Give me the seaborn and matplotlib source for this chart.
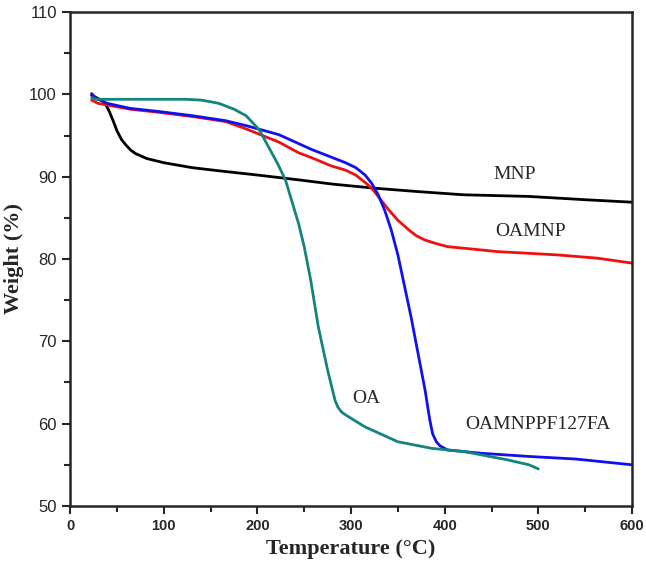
import numpy as np
import pandas as pd
import seaborn as sns
import matplotlib.pyplot as plt
from matplotlib.ticker import MultipleLocator

# values
mnp_t = [23, 28, 35, 38, 42, 46, 50, 55, 60, 65, 70, 82, 100, 130, 160, 200, 245, 280, 325, 370, 420, 490, 550, 600]
mnp_w = [99.9, 99.6, 99.2, 98.8, 97.9, 96.8, 95.6, 94.5, 93.8, 93.2, 92.8, 92.2, 91.7, 91.1, 90.7, 90.2, 89.6, 89.1, 88.6, 88.2, 87.8, 87.6, 87.2, 86.9]

oamnp_t = [23, 30, 45, 64, 96, 131, 166, 188, 223, 244, 258, 279, 294, 305, 315, 322, 329, 340, 350, 362, 370, 379, 390, 403, 430, 456, 520, 563, 600]
oamnp_w = [99.3, 98.9, 98.6, 98.2, 97.8, 97.3, 96.7, 95.8, 94.2, 92.9, 92.3, 91.3, 90.8, 90.2, 89.3, 88.6, 87.6, 86.0, 84.7, 83.5, 82.8, 82.3, 81.9, 81.5, 81.2, 80.9, 80.5, 80.1, 79.5]

pf127_t = [23, 28, 40, 64, 96, 131, 166, 188, 223, 258, 294, 305, 315, 322, 329, 336, 343, 350, 364, 379, 384, 387, 391, 395, 403, 439, 492, 540, 600]
pf127_w = [100.1, 99.5, 98.9, 98.3, 97.9, 97.4, 96.8, 96.2, 95.1, 93.3, 91.7, 91.1, 90.2, 89.2, 87.8, 85.9, 83.5, 80.5, 73.0, 64.1, 60.5, 58.8, 57.8, 57.3, 56.8, 56.4, 56.0, 55.7, 55.0]

oa_t = [23, 28, 60, 124, 140, 150, 159, 175, 188, 202, 212, 222, 230, 244, 250, 257, 265, 275, 283, 286, 290, 295, 315, 350, 386, 421, 467, 490, 500]
oa_w = [99.6, 99.4, 99.4, 99.4, 99.3, 99.1, 98.9, 98.2, 97.4, 95.7, 93.6, 91.5, 89.6, 84.3, 81.5, 77.4, 71.8, 66.5, 62.8, 62.0, 61.4, 61.0, 59.6, 57.8, 57.0, 56.6, 55.6, 55.0, 54.5]

names = ["MNP", "OAMNP", "OAMNPPF127FA", "OA"]
colors = ["#000000", "#ee1111", "#1111ee", "#13857c"]
label_pos = [(475, 90.3), (492, 83.3), (500, 59.9), (316, 63.1)]

sns.set_style("ticks")
plt.rcParams["font.family"] = ["Liberation Sans", "DejaVu Sans"]

fig = plt.figure(figsize=(6.46, 5.73), dpi=100)
ax = fig.add_axes([0.1084, 0.117, 0.8700, 0.862])

curves = [(mnp_t, mnp_w), (oamnp_t, oamnp_w), (pf127_t, pf127_w), (oa_t, oa_w)]
for (t, w), name, c in zip(curves, names, colors):
    df = pd.DataFrame({"t": t, "w": w})
    sns.lineplot(data=df, x="t", y="w", color=c, linewidth=2.0, ax=ax, sort=False)

for name, (x, y) in zip(names, label_pos):
    ax.text(x, y, name, fontsize=14, family="Liberation Serif", ha="center", va="center")

ax.set_xlim(0, 600)
ax.set_ylim(50, 110)
ax.xaxis.set_major_locator(MultipleLocator(100))
ax.xaxis.set_minor_locator(MultipleLocator(50))
ax.yaxis.set_major_locator(MultipleLocator(10))
ax.yaxis.set_minor_locator(MultipleLocator(5))
ax.tick_params(which="major", direction="out", length=6, width=1.5, top=False, right=False)
ax.tick_params(which="minor", direction="out", length=4, width=1.5, top=False, right=False)
ax.tick_params(axis="y", labelsize=12)
ax.tick_params(axis="x", labelsize=10.5)
for lab in ax.get_xticklabels():
    lab.set_fontweight("bold")
for s in ax.spines.values():
    s.set_linewidth(1.8)

ax.set_xlabel("Temperature (\u00b0C)", fontsize=16, fontweight="bold", family="Liberation Serif", labelpad=4)
ax.set_ylabel("Weight (%)", fontsize=16, fontweight="bold", family="Liberation Serif", labelpad=4)

fig.savefig("out.png", dpi=100)
